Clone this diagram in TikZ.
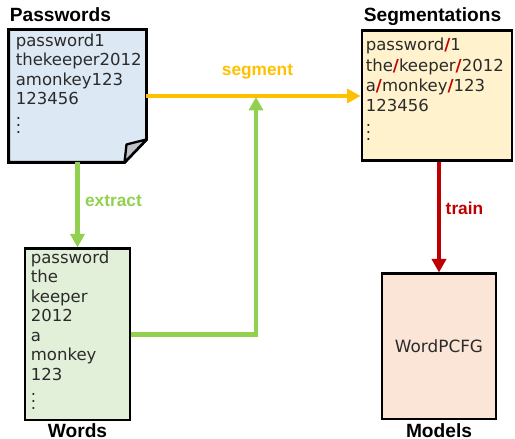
\documentclass[tikz,border=0pt]{standalone}
\usepackage{fontspec}
\setmainfont{DejaVu Sans}
\newfontfamily\headfont{Liberation Sans}
\usetikzlibrary{arrows.meta}
\usetikzlibrary{positioning}
\definecolor{pwdblue}{HTML}{DDE8F5}
\definecolor{segyellow}{HTML}{FFF2CC}
\definecolor{wrdgreen}{HTML}{E2F0D9}
\definecolor{mdlpink}{HTML}{FBE5D6}
\definecolor{foldgray}{HTML}{BFC3C8}
\definecolor{txtgray}{HTML}{2B2B2B}
\definecolor{flowgold}{HTML}{FFC000}
\definecolor{flowgreen}{HTML}{92D050}
\definecolor{flowred}{HTML}{C00000}
\tikzset{
  box/.style={draw, line width=1.7pt, inner sep=0pt},
  title/.style={font=\headfont\fontsize{10.9pt}{13pt}\selectfont\bfseries, inner sep=0pt},
  list/.style={font=\fontsize{9.4pt}{11.1pt}\selectfont, align=left,
    inner sep=0pt, anchor=north west, text=txtgray},
  flow/.style={line width=2.3pt, -{Triangle[length=0.27cm,width=0.28cm]}},
  tag/.style={font=\headfont\fontsize{9.85pt}{12pt}\selectfont\bfseries, anchor=base}
}
\newcommand{\cut}{{\color{flowred}\textbf{/}}}

\begin{document}
\begin{tikzpicture}
\useasboundingbox (0,0) rectangle (10.3,8.78);
\path
  coordinate (join) at (5.12,6.84)
  ;
\node[box, draw=none, minimum width=2.7cm, minimum height=2.6cm] (pwd) at (1.55,6.86) {};
\node[box, fill=segyellow, minimum width=3cm, minimum height=2.6cm] (seg) at (8.74,6.86) {};
\node[box, fill=wrdgreen, minimum width=2.1cm, minimum height=3.42cm] (wrd) at (1.55,2.09) {};
\node[box, fill=mdlpink, minimum width=2.28cm, minimum height=2.9cm,
  font=\fontsize{9.6pt}{11pt}\selectfont, text=txtgray] (mdl) at (8.78,1.85) {WordPCFG};
\filldraw[line width=1.7pt, fill=pwdblue]
  (pwd.north west) --
  (pwd.north east) --
  ([yshift=0.46cm]pwd.south east) --
  ([xshift=-0.44cm]pwd.south east) --
  (pwd.south west) -- cycle;
\filldraw[line width=1.3pt, line join=round, fill=foldgray]
  ([xshift=-0.44cm]pwd.south east) --
  ([shift={(-0.4,0.36)}]pwd.south east) --
  ([yshift=0.46cm]pwd.south east) -- cycle;
\node[list] (pwdtxt) at ([shift={(0.14,-0.08)}]pwd.north west)
  {password1\\thekeeper2012\\amonkey123\\123456\\$\vdots$};
\node[list, font=\fontsize{9.4pt}{11.5pt}\selectfont] (segtxt) at ([shift={(0.1,-0.17)}]seg.north west)
  {password\cut1\\the\cut keeper\cut2012\\a\cut monkey\cut123\\123456\\$\vdots$};
\node[list] (wrdtxt) at ([shift={(0.14,-0.06)}]wrd.north west)
  {password\\the\\keeper\\2012\\a\\monkey\\123\\$\vdots$};
\node[title, anchor=base west] (pwdtitle) at ([shift={(0.02,0.16)}]pwd.north west) {Passwords};
\node[title, anchor=base west] (segtitle) at ([shift={(0.06,0.16)}]seg.north west) {Segmentations};
\node[title, anchor=base] (wrdtitle) at ([yshift=-0.33cm]wrd.south) {Words};
\node[title, anchor=base] (mdltitle) at ([yshift=-0.35cm]mdl.south) {Models};
\draw[flow, flowgold] (pwd.east) -- (seg.west);
\draw[flow, flowgreen] (pwd.south) -- (wrd.north);
\draw[flow, flowgreen] (wrd.east) -| (join);
\draw[flow, flowred] (mdl.north |- seg.south) -- (mdl.north);
\node[tag, text=flowgold] (seglbl) at (5.15,7.26) {segment};
\node[tag, text=flowgreen] (extlbl) at (2.27,4.64) {extract};
\node[tag, text=flowred] (trnlbl) at (9.29,4.48) {train};
\end{tikzpicture}
\end{document}
